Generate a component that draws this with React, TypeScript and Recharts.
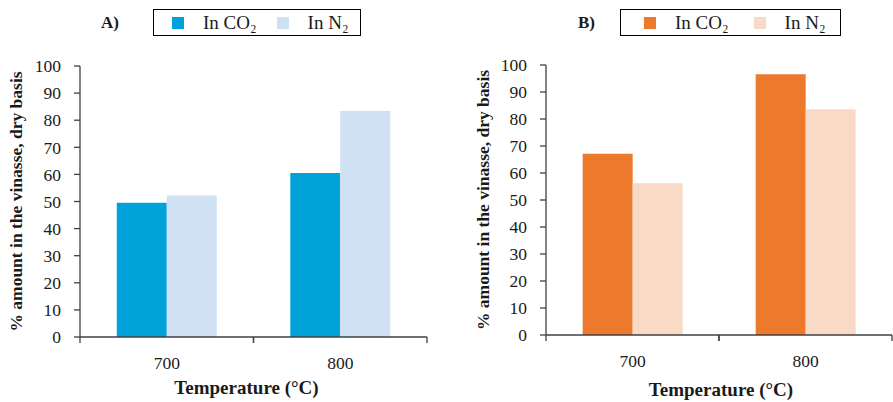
import React from 'react';
import { BarChart, Bar, XAxis, YAxis, Legend, Label } from 'recharts';

// Temperatures on the category axis
const temperatures = ['700', '800'];

// Panel A: % amount in the vinasse (dry basis)
const panelACo2 = [49.5, 60.5];
const panelAN2 = [52.2, 83.4];

// Panel B: % amount in the vinasse (dry basis)
const panelBCo2 = [67.1, 96.6];
const panelBN2 = [56.2, 83.6];

const yTicks = [0, 10, 20, 30, 40, 50, 60, 70, 80, 90, 100];
const seriesNames = ['In CO\u2082', 'In N\u2082'];

const FONT = '"Liberation Serif", "Times New Roman", serif';
const AXIS = '#404040';
const TEXT = '#1a1a1a';

type Row = { temp: string; co2: number; n2: number };

const buildRows = (co2: number[], n2: number[]): Row[] =>
  temperatures.map((t, i) => ({ temp: t, co2: co2[i], n2: n2[i] }));

const TICK_MARGIN = 20;

// Category tick: label in the middle of the band, tick marks on the band edges
const BandTick = (props: any) => {
  const { x, y, payload } = props;
  const half = payload.offset ?? 0;
  const axisY = y - TICK_MARGIN;
  return (
    <g>
      <line x1={x - half} x2={x - half} y1={axisY} y2={axisY + 6} stroke={AXIS} strokeWidth={1.3} />
      <line x1={x + half} x2={x + half} y1={axisY} y2={axisY + 6} stroke={AXIS} strokeWidth={1.3} />
      <text x={x} y={y} dy="0.68em" textAnchor="middle" fill={TEXT} fontFamily={FONT} fontSize={17.5}>
        {payload.value}
      </text>
    </g>
  );
};

type PanelProps = {
  tag: string;
  rows: Row[];
  colors: [string, string];
  width: number;
  plotTop: number;
  plotRight: number;
  yAxisWidth: number;
  xAxisHeight: number;
  yTitleDx: number;
  xTitleDx: number;
  xTitleOffset: number;
  tagLeft: number;
  boxLeft: number;
  boxWidth: number;
  padLeft: number;
  itemGap: number;
};

const Panel = (p: PanelProps) => {
  const renderLegend = (lp: any) => {
    const items = (lp.payload || []) as any[];
    return (
      <div style={{ position: 'relative', width: p.width, height: 45, fontFamily: FONT, color: TEXT }}>
        <span
          style={{ position: 'absolute', left: p.tagLeft, top: 13, fontWeight: 'bold', fontSize: 17, lineHeight: '20px' }}
        >
          {p.tag}
        </span>
        <div
          style={{
            position: 'absolute',
            left: p.boxLeft,
            top: 9,
            width: p.boxWidth,
            height: 27,
            border: '1px solid #000',
            boxSizing: 'border-box',
            display: 'flex',
            alignItems: 'center',
            paddingLeft: p.padLeft,
          }}
        >
          {items.map((it, i) => (
            <div key={i} style={{ display: 'flex', alignItems: 'center', marginLeft: i === 0 ? 0 : p.itemGap }}>
              <span style={{ width: 12, height: 12, background: it.color, display: 'inline-block', marginRight: 19 }} />
              <span style={{ fontSize: 19, lineHeight: '20px', whiteSpace: 'nowrap' }}>{it.value}</span>
            </div>
          ))}
        </div>
      </div>
    );
  };

  return (
    <BarChart
      width={p.width}
      height={402}
      data={p.rows}
      margin={{ top: p.plotTop, right: p.plotRight, bottom: 0, left: 0 }}
      barCategoryGap="21.2%"
      barGap={0}
    >
      <XAxis
        dataKey="temp"
        height={p.xAxisHeight}
        stroke={AXIS}
        strokeWidth={1.3}
        tickLine={false}
        tickSize={0}
        tickMargin={TICK_MARGIN}
        tick={<BandTick />}
      >
        <Label
          value="Temperature (°C)"
          position="insideBottom"
          offset={p.xTitleOffset}
          dx={p.xTitleDx}
          style={{ fontFamily: FONT, fontWeight: 'bold', fontSize: 19, fill: TEXT }}
        />
      </XAxis>
      <YAxis
        width={p.yAxisWidth}
        domain={[0, 100]}
        ticks={yTicks}
        interval={0}
        stroke={AXIS}
        strokeWidth={1.3}
        tickSize={6}
        tickMargin={13}
        tick={{ fontFamily: FONT, fontSize: 17.5, fill: TEXT }}
      >
        <Label
          value="% amount in the vinasse, dry basis"
          angle={-90}
          position="center"
          dx={p.yTitleDx}
          dy={0}
          style={{ fontFamily: FONT, fontWeight: 'bold', fontSize: 17.5, fill: TEXT, textAnchor: 'middle' }}
        />
      </YAxis>
      <Legend
        verticalAlign="middle"
        align="center"
        layout="horizontal"
        content={renderLegend}
        wrapperStyle={{ top: 0, left: 0, width: p.width, height: 45 }}
      />
      <Bar dataKey="co2" name={seriesNames[0]} fill={p.colors[0]} isAnimationActive={false} />
      <Bar dataKey="n2" name={seriesNames[1]} fill={p.colors[1]} isAnimationActive={false} />
    </BarChart>
  );
};

export default function App() {
  const rowsA = buildRows(panelACo2, panelAN2);
  const rowsB = buildRows(panelBCo2, panelBN2);
  return (
    <div style={{ position: 'absolute', left: 0, top: 0, width: 893, height: 402, background: '#fff' }}>
      <div style={{ position: 'absolute', left: 0, top: 0 }}>
        <Panel
          tag="A)"
          rows={rowsA}
          colors={['#00A2DA', '#CFE1F2']}
          width={440}
          plotTop={66}
          plotRight={13}
          yAxisWidth={80}
          xAxisHeight={65}
          yTitleDx={-24}
          xTitleDx={-7}
          xTitleOffset={8}
          tagLeft={101}
          boxLeft={153}
          boxWidth={208}
          padLeft={18}
          itemGap={20}
        />
      </div>
      <div style={{ position: 'absolute', left: 440, top: 0 }}>
        <Panel
          tag="B)"
          rows={rowsB}
          colors={['#ED7A2C', '#F9DAC6']}
          width={453}
          plotTop={65}
          plotRight={1}
          yAxisWidth={106}
          xAxisHeight={67}
          yTitleDx={-10}
          xTitleDx={2}
          xTitleOffset={6}
          tagLeft={138}
          boxLeft={180}
          boxWidth={221}
          padLeft={23}
          itemGap={25}
        />
      </div>
    </div>
  );
}
